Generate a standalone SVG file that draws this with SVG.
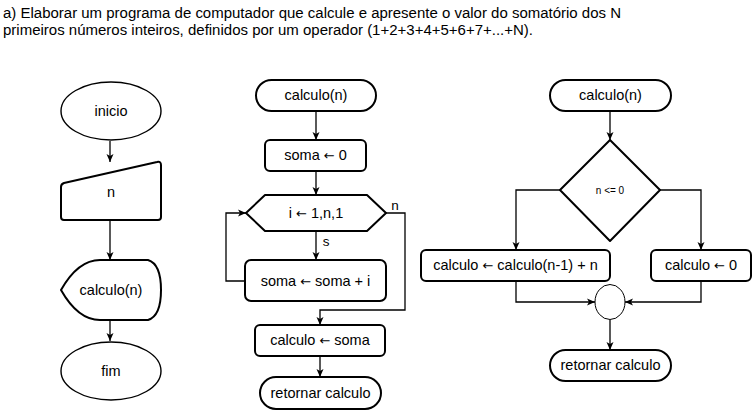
<svg xmlns="http://www.w3.org/2000/svg" width="752" height="412" viewBox="0 0 752 412">
<style>
text{font-family:"Liberation Sans",Arial,sans-serif;fill:#000}
.t{font-size:14.5px;text-anchor:middle}
.ar{font-family:"DejaVu Sans",sans-serif;font-size:13px}
.title{font-size:14px}
.box{fill:#fff;stroke:#000;stroke-width:2;stroke-linejoin:round}
.thin{fill:#fff;stroke:#000;stroke-width:1.4}
.c{fill:none;stroke:#000;stroke-width:1.3}
</style>
<defs>
<marker id="a" markerWidth="8" markerHeight="8" viewBox="0 0 8 8" refX="8" refY="4" orient="auto" markerUnits="userSpaceOnUse">
<path d="M0,0.5 L8,4 L0,7.5 L2,4 z" fill="#000"/>
</marker>
</defs>
<g id="title">
<text class="title" x="3" y="18" textLength="618" lengthAdjust="spacingAndGlyphs">a) Elaborar um programa de computador que calcule e apresente o valor do somatório dos N</text>
<text class="title" x="3" y="35" textLength="530" lengthAdjust="spacingAndGlyphs">primeiros números inteiros, definidos por um operador (1+2+3+4+5+6+7+...+N).</text>
</g>
<g id="connectors">
<path class="c" d="M110,141 V162" marker-end="url(#a)"/>
<path class="c" d="M110,220 V260" marker-end="url(#a)"/>
<path class="c" d="M110,320 V341" marker-end="url(#a)"/>
<path class="c" d="M316,111 V140" marker-end="url(#a)"/>
<path class="c" d="M316,171 V195" marker-end="url(#a)"/>
<path class="c" d="M316,231 V260" marker-end="url(#a)"/>
<path class="c" d="M245,281 H226 V213 H246" marker-end="url(#a)"/>
<path class="c" d="M386,213 H405 V310 H320 V325" marker-end="url(#a)"/>
<path class="c" d="M320,356 V377" marker-end="url(#a)"/>
<path class="c" d="M610,111 V140" marker-end="url(#a)"/>
<path class="c" d="M560,190 H516 V250" marker-end="url(#a)"/>
<path class="c" d="M660,190 H701 V250" marker-end="url(#a)"/>
<path class="c" d="M516,281 V302 H595" marker-end="url(#a)"/>
<path class="c" d="M701,281 V302 H625" marker-end="url(#a)"/>
<path class="c" d="M610,320 V350" marker-end="url(#a)"/>
<text x="395" y="210" style="font-size:13.5px" text-anchor="middle">n</text>
<text x="326" y="246" style="font-size:13.5px" text-anchor="middle">s</text>
</g>
<g id="inicio">
<ellipse class="thin" cx="111" cy="111" rx="50" ry="29"/>
<text class="t" x="111" y="116">inicio</text>
</g>
<g id="entrada-n">
<path class="box" d="M64,183 L157,162 Q161,161 161,165 L161,217 Q161,220 158,220 L64,220 Q61,220 61,217 L61,187 Q61,184 64,183 Z"/>
<text class="t" x="111" y="197">n</text>
</g>
<g id="exibir-calculo">
<path class="box" d="M61,290 Q78,260 100,260 L148,260 Q161,264 161,290 Q161,316 148,320 L100,320 Q78,320 61,290 Z"/>
<text class="t" x="111" y="295">calculo(n)</text>
</g>
<g id="fim">
<ellipse class="thin" cx="111" cy="371" rx="50" ry="29"/>
<text class="t" x="111" y="376">fim</text>
</g>
<g id="m-calculo">
<rect class="box" x="256" y="80" width="120" height="31" rx="15.5"/>
<text class="t" x="316" y="100">calculo(n)</text>
</g>
<g id="m-soma0">
<rect class="box" x="265" y="140" width="101" height="31" rx="5"/>
<text class="t" x="315.5" y="160">soma <tspan class="ar">←</tspan> 0</text>
</g>
<g id="m-para">
<path class="box" d="M246,213 L265,195 L367,195 L386,213 L367,231 L265,231 Z"/>
<text class="t" x="316" y="218">i <tspan class="ar">←</tspan> 1,n,1</text>
</g>
<g id="m-soma-i">
<rect class="box" x="245" y="260" width="141" height="41" rx="6"/>
<text class="t" x="315.5" y="286">soma <tspan class="ar">←</tspan> soma + i</text>
</g>
<g id="m-calc-soma">
<rect class="box" x="255" y="325" width="130" height="31" rx="5"/>
<text class="t" x="320" y="345">calculo <tspan class="ar">←</tspan> soma</text>
</g>
<g id="m-retornar">
<rect class="box" x="260" y="377" width="121" height="32" rx="16"/>
<text class="t" x="320.5" y="398">retornar calculo</text>
</g>
<g id="r-calculo">
<rect class="box" x="550" y="80" width="121" height="31" rx="15.5"/>
<text class="t" x="610.5" y="100">calculo(n)</text>
</g>
<g id="r-decisao">
<path class="box" d="M610,140 L660,190 L610,241 L560,190 Z"/>
<text x="610" y="194" style="font-size:10px" text-anchor="middle">n &lt;= 0</text>
</g>
<g id="r-recursao">
<rect class="box" x="421" y="250" width="189" height="31" rx="5"/>
<text class="t" x="515.5" y="270">calculo <tspan class="ar">←</tspan> calculo(n-1) + n</text>
</g>
<g id="r-zero">
<rect class="box" x="651" y="250" width="100" height="31" rx="5"/>
<text class="t" x="701" y="270">calculo <tspan class="ar">←</tspan> 0</text>
</g>
<g id="r-juncao">
<ellipse cx="610" cy="302" rx="15" ry="17.5" fill="#fff" stroke="#000" stroke-width="1"/>
</g>
<g id="r-retornar">
<rect class="box" x="550" y="350" width="121" height="31" rx="15.5"/>
<text class="t" x="610.5" y="370">retornar calculo</text>
</g>
</svg>
